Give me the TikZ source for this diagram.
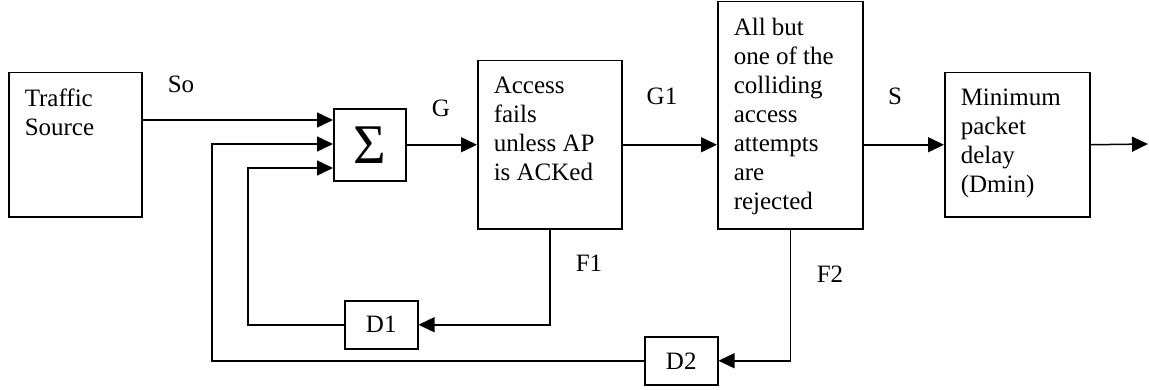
\documentclass[tikz,border=0pt]{standalone}
\usepackage{fontspec}
\setmainfont{Liberation Serif}
\usetikzlibrary{arrows.meta}
\newcommand{\blk}[3]{\parbox[c][#2][t]{#1}{#3}}
\tikzset{
	blok/.style={draw,line width=.75pt,anchor=north west,inner xsep=8pt,inner ysep=8pt},
	dly/.style={draw,line width=.75pt,anchor=north west,minimum width=36.5pt,minimum height=24pt,inner sep=0pt},
	flow/.style={line width=.75pt,-{Triangle[length=8pt,width=7.5pt]}},
	lbl/.style={inner sep=0pt}
}
\begin{document}
\begin{tikzpicture}[x=.5pt,y=-.5pt,font=\fontsize{12.5}{14.5}\selectfont]
	\useasboundingbox (0,0) rectangle (1149,390);
	% blocks
	\node[blok] (src) at (8,72) {\blk{50.5pt}{56pt}{Traffic\\Source}};
	\node[blok,minimum size=36pt,inner sep=0pt] (sum) at (333,108) {\fontsize{28}{28}\selectfont Σ};
	\node[blok] (acc) at (477,60) {\blk{56pt}{68pt}{Access\\fails\\unless AP\\is ACKed}};
	\node[blok] (rej) at (717,1) {\blk{56.5pt}{97.5pt}{All but\\one of the\\colliding\\access\\attempts\\are\\rejected}};
	\node[blok] (dmin) at (944,72) {\blk{56.5pt}{56pt}{Minimum\\packet\\delay\\(Dmin)}};
	\node[dly] (d1) at (344,300) {D1};
	\node[dly] (d2) at (644,336) {D2};
	% inputs of the sum
	\coordinate (in1) at ([yshift=-6pt]sum.north west);
	\coordinate (in2) at ([yshift=-18pt]sum.north west);
	\coordinate (in3) at ([yshift=-30pt]sum.north west);
	\coordinate (out) at (1148,144);
	% forward path
	\draw[flow] (src.east |- in1) -- (in1);
	\draw[flow] (sum.east) -- (acc.west);
	\draw[flow] (acc.east) -- (acc.east -| rej.west);
	\draw[flow] (rej.east |- dmin.west) -- (dmin.west);
	\draw[flow] (dmin.east) -- (out);
	% feedback
	\draw[flow] (acc.south) |- (d1.east);
	\draw[flow] (d1.west) -| ([xshift=-42.5pt]in3) -- (in3);
	\draw[flow] (rej.south) |- (d2.east);
	\draw[flow] (d2.west) -| ([xshift=-60.5pt]in2) -- (in2);
	% labels
	\path (181,84) node[lbl] (lso) {So}
	(441,108) node[lbl] (lg) {G}
	(662,96) node[lbl] (lg1) {G1}
	(895,96) node[lbl] (ls) {S}
	(589,263) node[lbl] (lf1) {F1}
	(830,274) node[lbl] (lf2) {F2};
\end{tikzpicture}
\end{document}
